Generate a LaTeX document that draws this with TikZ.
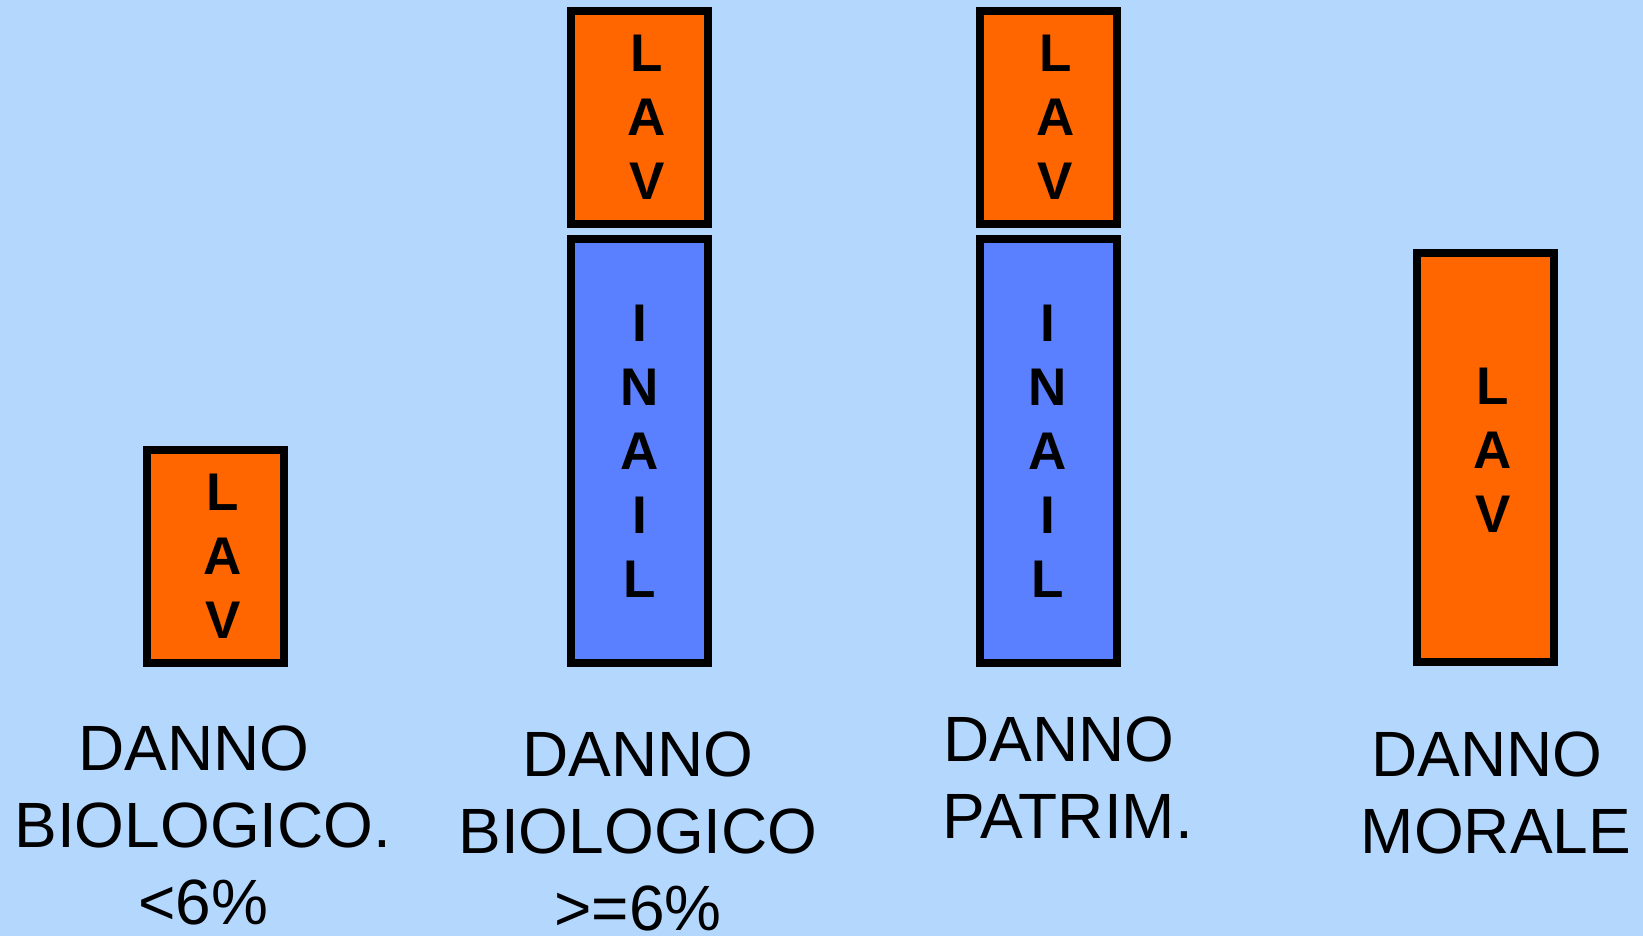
\documentclass[tikz,border=0pt]{standalone}
\usepackage{fontspec}
\setmainfont{Liberation Sans}
\usetikzlibrary{positioning}

\definecolor{sfondo}{HTML}{B4D7FD}
\definecolor{lavorange}{HTML}{FF6600}
\definecolor{inailblue}{HTML}{5A7FFF}
\newcommand\lavsp{\hspace*{.28em}}

\begin{document}
\begin{tikzpicture}[x=1pt,y=1pt,node distance=7pt,
    box/.style={draw,line width=8pt,inner sep=0pt,minimum width=137pt,anchor=south,
                align=center,font=\bfseries\fontsize{53}{64}\selectfont},
    lav/.style={box,fill=lavorange,minimum height=213pt},
    inail/.style={box,fill=inailblue,minimum height=424pt},
    danno/.style={align=center,anchor=north,inner sep=0pt,font=\fontsize{64}{77}\selectfont}]
	\fill[sfondo] (0,0) rectangle (1643,936);
	\useasboundingbox (0,0) rectangle (1643,936);

	% colonne
	\node[lav] (lav1) at (215.5,269) {\lavsp L\\\lavsp A\\\lavsp V};
	\node[inail] (inail2) at (639.5,269) {I\\N\\A\\I\\L};
	\node[lav] (lav2) [above=of inail2] {\lavsp L\\\lavsp A\\\lavsp V};
	\node[inail] (inail3) at (1048,269) {I\\N\\A\\I\\L};
	\node[lav] (lav3) [above=of inail3] {\lavsp L\\\lavsp A\\\lavsp V};
	\node[lav,minimum height=409pt,text depth=14pt] (lav4) at (1485.5,270) {\lavsp L\\\lavsp A\\\lavsp V};

	% didascalie
	\node[danno] (bio1) at (203,210) {DANNO\kern.278em\\BIOLOGICO.\\<6\%};
	\node[danno] (bio2) at (638,204) {DANNO\\BIOLOGICO\\>=6\%};
	\node[danno] (patr) at (1068,219) {DANNO\kern.278em\\PATRIM.};
	\node[danno] (mor) at (1496,204) {DANNO\kern.278em\\MORALE};
\end{tikzpicture}
\end{document}
